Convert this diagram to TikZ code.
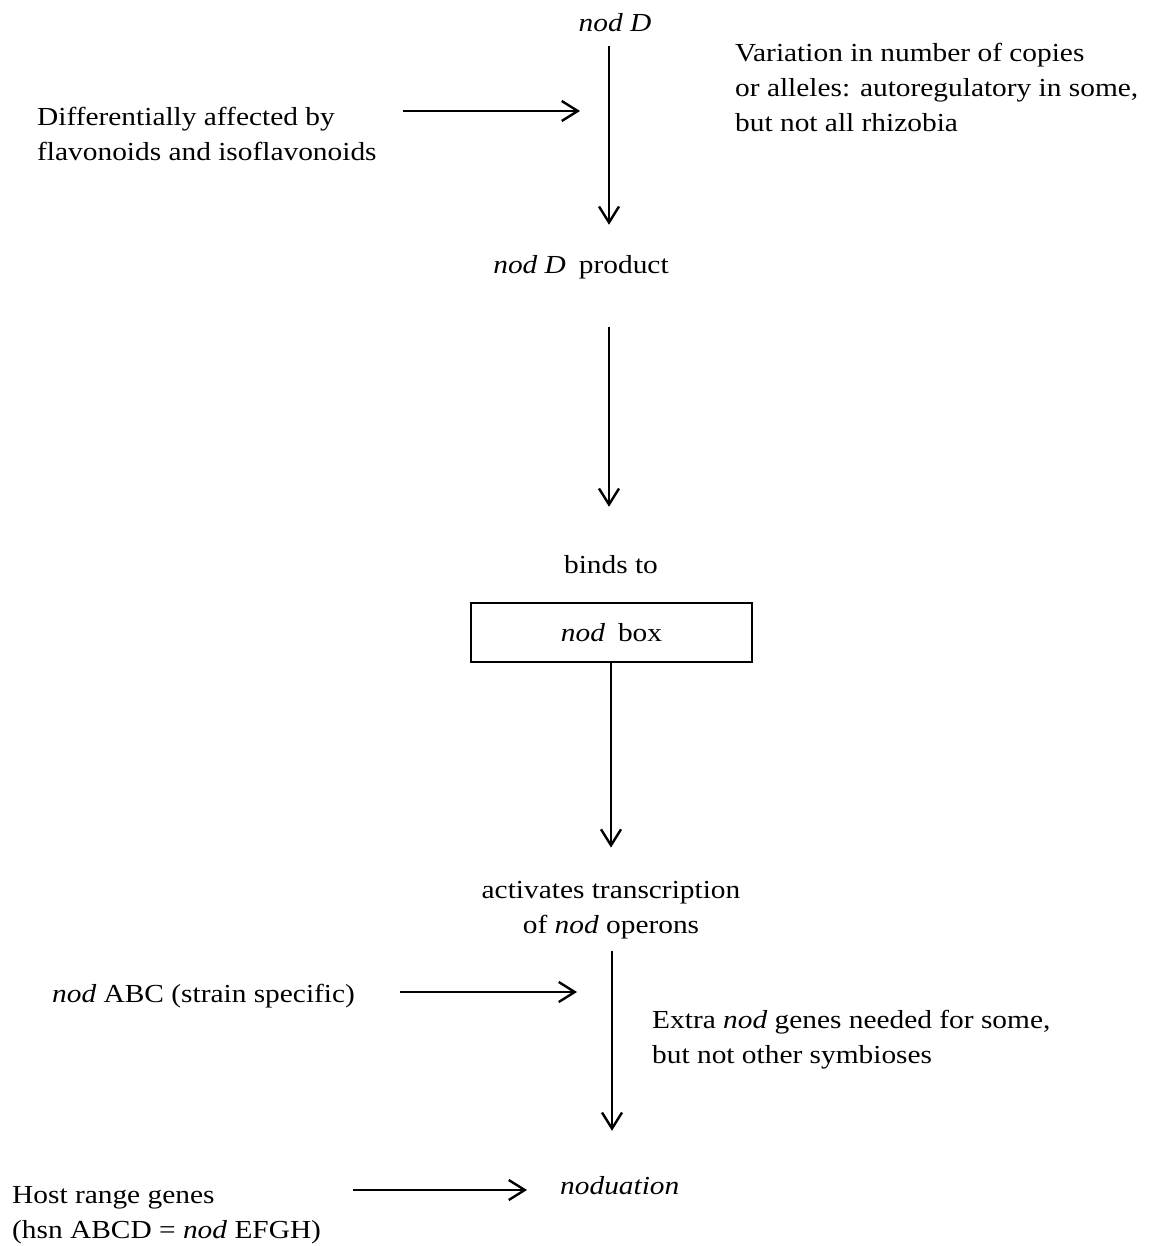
\documentclass[tikz,border=0pt]{standalone}
\usepackage{fontspec}
\setmainfont{Liberation Serif}[FakeStretch=1.13]
\usetikzlibrary{arrows.meta}
\begin{document}
\begin{tikzpicture}[x=1pt,y=-1pt,
  txt/.style={inner sep=0pt,font=\fontsize{26}{35}\selectfont},
  lbl/.style={txt,align=left,anchor=base west},
  arr/.style={line width=2.4pt,-{Straight Barb[length=16pt,width=20pt,line width=2.4pt]}},
  boxnode/.style={draw,line width=2.4pt,minimum width=281pt,minimum height=59pt,inner sep=0pt,font=\fontsize{26}{35}\selectfont}]
\useasboundingbox (0,0) rectangle (1149,1246);
% spine x positions
\coordinate (sa) at (609,0);
\coordinate (sb) at (611,0);
\coordinate (sc) at (612,0);
% nodes (multi-line nodes are placed by the baseline of their last line)
\node[txt,anchor=base] (nodD) at (615,32) {\textit{nod D}};
\node[lbl] (diff) at (37,161) {Differentially affected by\\flavonoids and isoflavonoids};
\node[lbl] (var) at (735,132) {Variation in number of copies\\or alleles: autoregulatory in some,\\but not all rhizobia};
\node[txt,anchor=base] (prod) at (581,273) {\textit{nod D}\enspace product};
\node[txt,anchor=base] (binds) at (611,573) {binds to};
\node[boxnode] (box) at (611.5,632.5) {\textit{nod}\enspace box};
\node[txt,anchor=base,align=center] (act) at (611,933) {activates transcription\\of \textit{nod} operons};
\node[lbl] (abc) at (52,1002) {\textit{nod} ABC (strain specific)};
\node[lbl] (extra) at (652,1063) {Extra \textit{nod} genes needed for some,\\but not other symbioses};
\node[txt,anchor=base west] (nodul) at (560,1194) {\textit{noduation}};
\node[lbl] (host) at (12,1238) {Host range genes\\(hsn ABCD = \textit{nod} EFGH)};
% horizontal arrow ends
\coordinate (h1s) at (403,111); \coordinate (h1e) at (580,111);
\coordinate (h2s) at (400,992); \coordinate (h2e) at (577,992);
\coordinate (h3s) at (353,1190); \coordinate (h3e) at (527,1190);
% connectors
\draw[arr,shorten <=14pt,shorten >=30pt] (nodD.south -| sa) -- (prod.north -| sa);
\draw[arr,shorten <=48pt,shorten >=48pt] (prod.south -| sa) -- (binds.north -| sa);
\draw[arr,shorten >=33pt] (box.south -| sb) -- (act.north -| sb);
\draw[arr,shorten <=12pt,shorten >=45pt] (act.south -| sc) -- (nodul.north -| sc);
\draw[arr] (h1s) -- (h1e);
\draw[arr] (h2s) -- (h2e);
\draw[arr] (h3s) -- (h3e);
\end{tikzpicture}
\end{document}
